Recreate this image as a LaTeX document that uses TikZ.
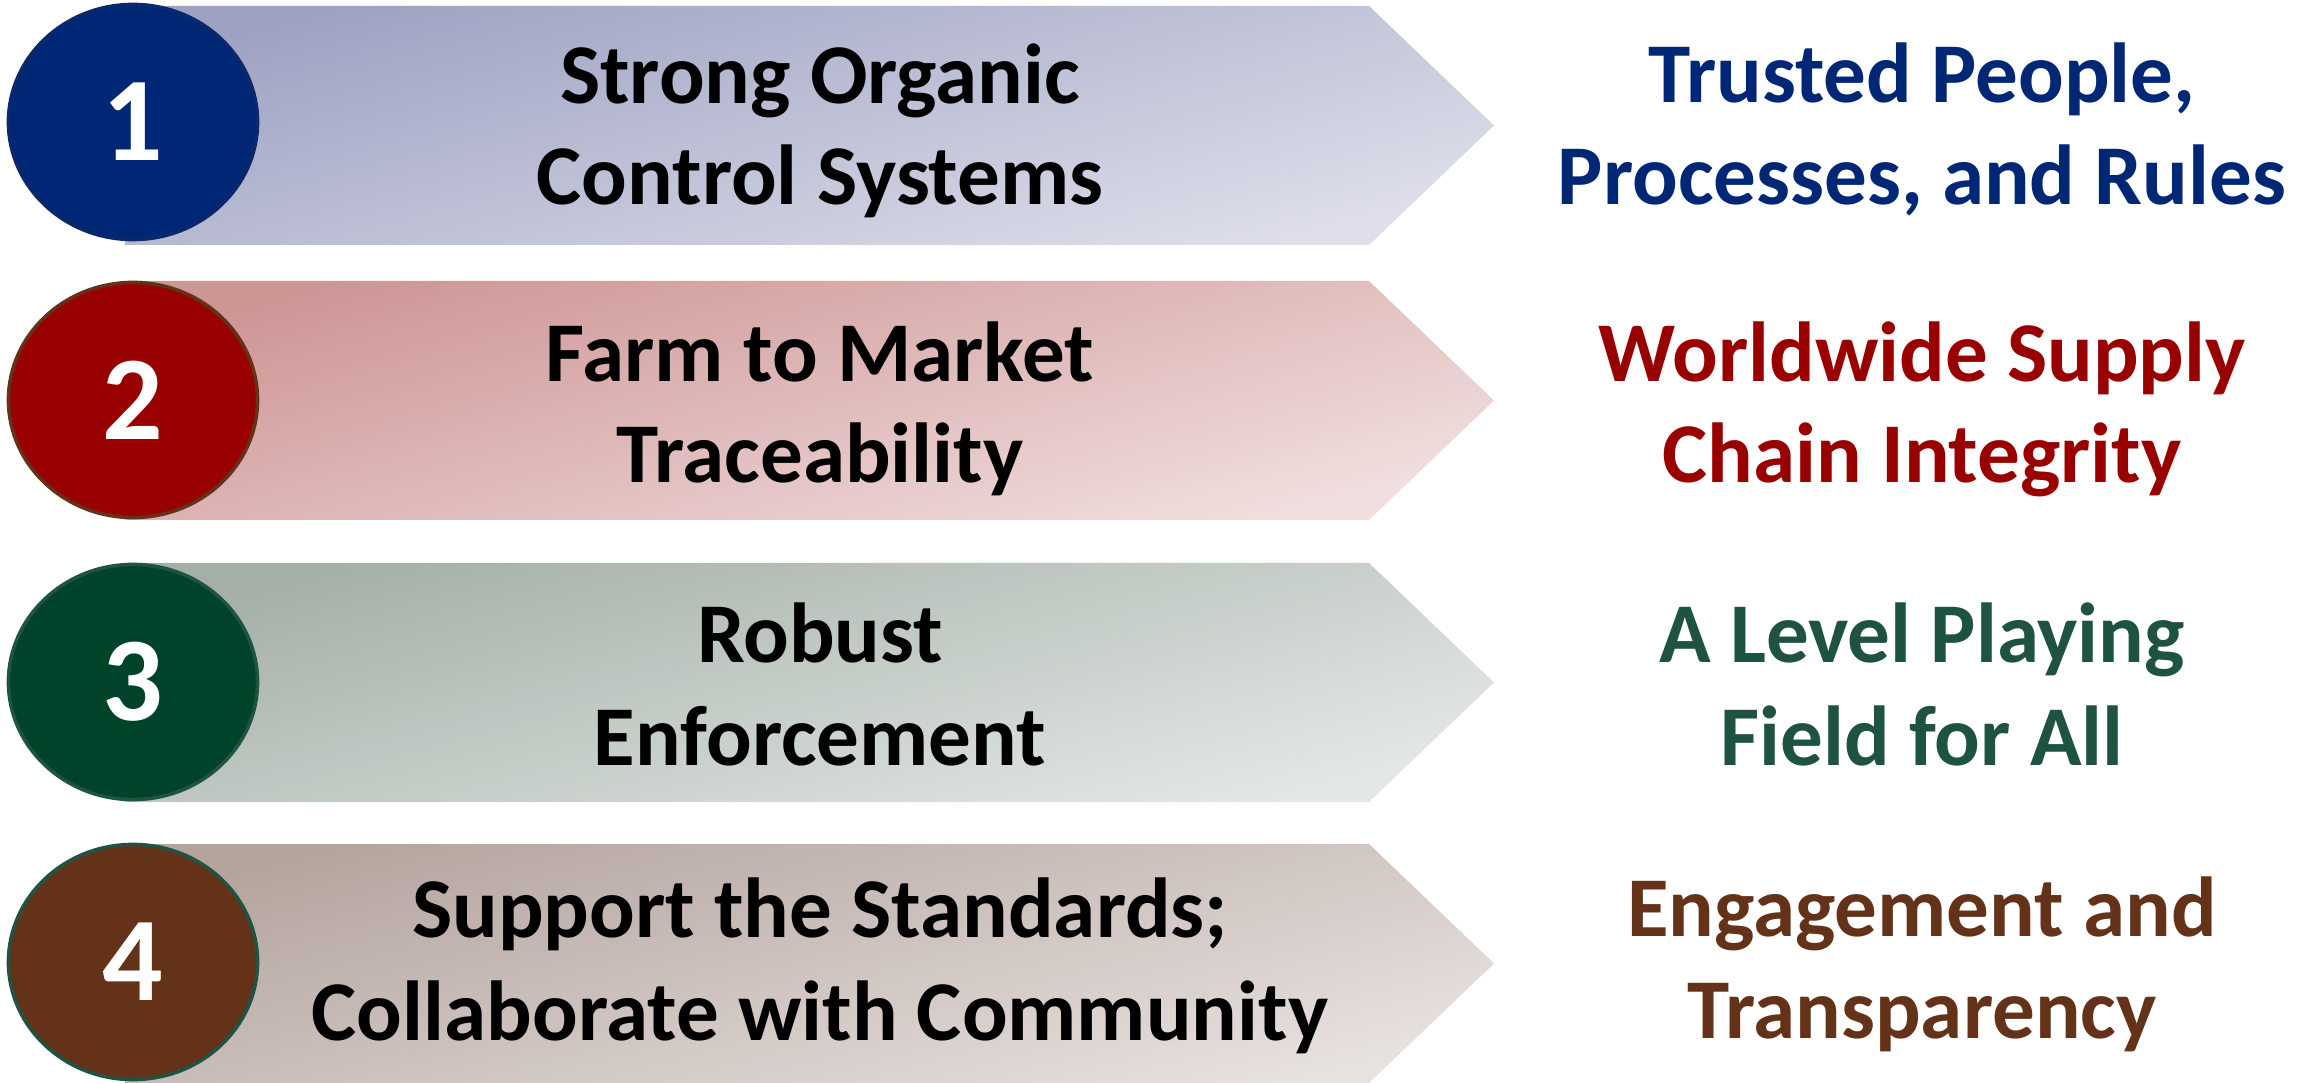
\documentclass[tikz,border=0pt]{standalone}
\usepackage{fontspec}
\setmainfont{Carlito}
\usetikzlibrary{shapes.geometric}
\definecolor{cBlue}{HTML}{002776}
\definecolor{cBlueLine}{HTML}{0A286A}
\definecolor{cRed}{HTML}{990000}
\definecolor{cBrown}{HTML}{643219}
\definecolor{cGreen}{HTML}{00432B}
\definecolor{cGreenLine}{HTML}{1F5444}
\definecolor{cGreenTxt}{HTML}{1E5341}
\definecolor{aOneTop}{HTML}{9EA2C2}
\definecolor{aOneBot}{HTML}{DEDFEA}
\definecolor{aTwoTop}{HTML}{CE9595}
\definecolor{aTwoBot}{HTML}{F1DFDF}
\definecolor{aThreeTop}{HTML}{A4B0A7}
\definecolor{aThreeBot}{HTML}{E4E8E5}
\definecolor{aFourTop}{HTML}{B4A49E}
\definecolor{aFourBot}{HTML}{E7E1DF}
\tikzset{
  badge/.style={ellipse, minimum width=2.49cm, minimum height=2.35cm, line width=1pt, inner sep=0pt,
    text=white, font=\fontsize{34}{40}\selectfont\bfseries},
  lefttxt/.style={anchor=base, inner sep=0pt, text=black, font=\fontsize{24.2}{29}\selectfont\bfseries},
  righttxt/.style={anchor=base, inner sep=0pt, font=\fontsize{24.2}{29}\selectfont\bfseries},
}
\begin{document}
\begin{tikzpicture}[x=0.01cm,y=-0.01cm]
\useasboundingbox (0,0) rectangle (2313,1083);
% arrows
\shade[top color=aOneTop, bottom color=aOneBot, shading angle=15]
  (125,6) -- (1369,6) -- (1494,125.5) -- (1369,245) -- (125,245) -- cycle;
\shade[top color=aTwoTop, bottom color=aTwoBot, shading angle=15]
  (125,281) -- (1369,281) -- (1494,400.5) -- (1369,520) -- (125,520) -- cycle;
\shade[top color=aThreeTop, bottom color=aThreeBot, shading angle=15]
  (125,563) -- (1369,563) -- (1494,682.5) -- (1369,802) -- (125,802) -- cycle;
\shade[top color=aFourTop, bottom color=aFourBot, shading angle=15]
  (125,844) -- (1369,844) -- (1494,963.5) -- (1369,1083) -- (125,1083) -- cycle;
% badges
\node[badge, fill=cBlue, draw=cBlueLine] (n1) at (133,122) {1};
\node[badge, fill=cRed, draw=cBrown] (n2) at (133,400) {2};
\node[badge, fill=cGreen, draw=cGreenLine] (n3) at (133,682) {3};
\node[badge, fill=cBrown, draw=cGreenLine] (n4) at (133,962) {4};
% left texts
\node[lefttxt] (l1a) at (820,104) {Strong Organic};
\node[lefttxt] (l1b) at (820,205) {Control Systems};
\node[lefttxt] (l2a) at (820,382) {Farm to Market};
\node[lefttxt] (l2b) at (820,483) {Traceability};
\node[lefttxt] (l3a) at (820,663) {Robust};
\node[lefttxt] (l3b) at (820,765) {Enforcement};
\node[lefttxt] (l4a) at (820,937) {Support the Standards;};
\node[lefttxt] (l4b) at (820,1040) {Collaborate with Community};
% right texts
\node[righttxt, text=cBlue] (r1a) at (1922,103) {Trusted People,};
\node[righttxt, text=cBlue] (r1b) at (1922,205) {Processes, and Rules};
\node[righttxt, text=cRed] (r2a) at (1922,382) {Worldwide Supply};
\node[righttxt, text=cRed] (r2b) at (1922,483) {Chain Integrity};
\node[righttxt, text=cGreenTxt] (r3a) at (1922,663) {A Level Playing};
\node[righttxt, text=cGreenTxt] (r3b) at (1922,765) {Field for All};
\node[righttxt, text=cBrown] (r4a) at (1922,936) {Engagement and};
\node[righttxt, text=cBrown] (r4b) at (1922,1038) {Transparency};
\end{tikzpicture}
\end{document}
